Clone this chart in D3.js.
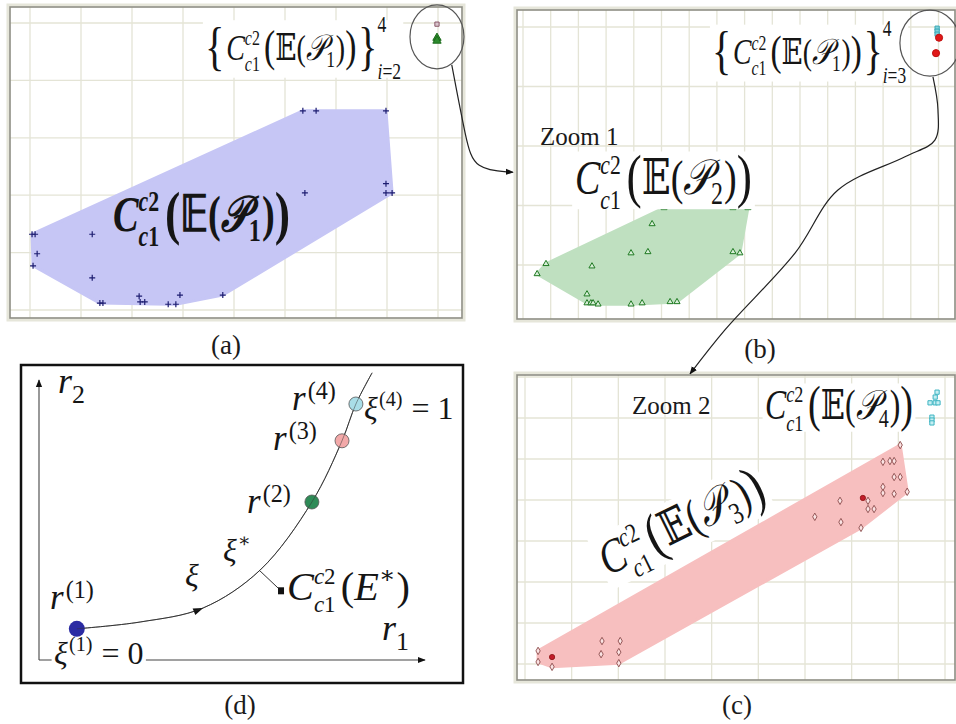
<!DOCTYPE html>
<html>
<head>
<meta charset="utf-8">
<script src="https://cdnjs.cloudflare.com/ajax/libs/d3/7.8.5/d3.min.js"></script>
<style>
  body { margin: 0; background: #fff; }
  svg { display: block; }
</style>
</head>
<body>
<div id="viz"></div>
<script>
var width = 956, height = 724;

// ---- data (grid units of each panel) ----
// (a) P1 points, "+" markers
var p1Points = [[5.35,3.47],[5.61,3.47],[6.98,3.47],[5.39,2.04],[6.98,2.20],[6.98,2.04],[7.10,2.04],
  [1.22,1.32],[0.04,1.32],[0.10,1.32],[0.14,0.98],[0.06,0.77],[1.22,0.56],[1.37,0.12],[1.43,0.12],
  [2.14,0.24],[2.16,0.14],[2.25,0.14],[2.71,0.10],[2.86,0.10],[2.94,0.26],[3.78,0.26]];
var aInsetSquares = [[7.98,4.98]];
var aInsetTriangles = [[7.98,4.74],[7.98,4.69]];
var aInsetCenter = [7.98,4.76];

// (b) P2 points, triangles
var p2Points = [[5.09,0.96],[7.58,0.96],[8.12,0.96],[4.66,0.69],[3.90,0.20],[4.51,0.22],[7.58,0.22],
  [7.83,0.20],[0.83,0.02],[2.49,-0.02],[0.51,-0.15],[2.31,-0.49],[2.31,-0.64],[2.45,-0.64],[2.53,-0.64],
  [2.71,-0.66],[3.90,-0.66],[4.30,-0.64],[5.31,-0.62],[5.56,-0.62]];
var bInsetSquares = [[14.95,3.98],[14.95,3.93],[14.95,3.88]];
var bInsetDots = [[15.02,3.82],[14.91,3.56]];
var bInsetCenter = [14.69,3.73];

// (c) P3 points, diamonds; P4 squares
var p3Points = [[8.04,5.34],[7.67,4.93],[7.82,4.95],[7.91,4.95],[7.91,4.56],[8.04,4.56],[7.67,4.32],
  [7.67,4.17],[7.91,4.15],[8.19,4.20],[7.35,3.98],[6.75,3.98],[7.35,3.78],[7.48,3.78],[6.21,3.59],
  [6.77,3.46],[7.20,3.32],[1.65,0.56],[2.04,0.56],[1.63,0.24],[2.01,0.29],[2.01,0.02],[0.28,0.32],
  [0.28,0.05],[0.58,-0.07]];
var p3Red = [[7.24,4.05],[0.58,0.17]];
var p4Points = [[8.83,6.63],[8.79,6.51],[8.68,6.37],[8.79,6.37],[8.85,6.37],[8.72,6.02],[8.72,5.95],[8.72,5.88]];

// (d) path xi in (r1, r2)
var xiCurve = [[0.98,0.78],[2.62,0.95],[4.25,1.30],[5.73,2.25],[7.07,3.95],[7.85,5.48],[8.21,6.40],[8.63,7.18]];
var rPoints = [[0.98,0.78],[7.07,3.95],[7.85,5.48],[8.21,6.40]];
var rColors = ["#2b2ba3", "#2e8b57", "#f3a9a9", "#a9dde7"];
var xiArrowAt = 4.25;
var eStar = [6.27,1.73], eFoot = [5.70,2.25];

// connectors (a) -> (b) in (a) units, (b) -> (c) in (b) units
var link1 = [[8.27,4.27],[8.55,2.96],[8.71,2.44],[9.47,2.40]];
var link2 = [[14.80,3.16],[14.98,2.61],[14.87,2.10],[13.79,1.82],[11.37,1.26],[9.82,0.20],[7.29,-1.09],[6.03,-1.83]];

// ---- scales ----
var xA = d3.scaleLinear().domain([0, 8]).range([30, 438]),
    yA = d3.scaleLinear().domain([0, 5]).range([310, 23]),
    xB = d3.scaleLinear().domain([0, 15]).range([523, 938.5]),
    yB = d3.scaleLinear().domain([0, 4]).range([265, 27]),
    xC = d3.scaleLinear().domain([0, 9]).range([525, 945]),
    yC = d3.scaleLinear().domain([0, 6]).range([664, 418]),
    xD = d3.scaleLinear().domain([0, 10]).range([39, 425]),
    yD = d3.scaleLinear().domain([0, 7]).range([660, 380]);

var svg = d3.select("#viz").append("svg")
    .attr("width", width).attr("height", height);

var defs = svg.append("defs");
defs.append("marker").attr("id", "arr")
    .attr("viewBox", "0 0 10 10").attr("refX", 9).attr("refY", 5)
    .attr("markerWidth", 8).attr("markerHeight", 8).attr("markerUnits", "userSpaceOnUse")
    .attr("orient", "auto")
  .append("path").attr("d", "M0,1L10,5L0,9Z").attr("fill", "#111");

var FONT = "'Liberation Serif','DejaVu Serif',serif";

// ---- math text helpers ----
function piece(g, x, y, size, spec, bold) {
  var t = g.append("text").attr("x", x).attr("y", y)
      .attr("font-family", FONT).attr("font-size", size)
      .attr("font-weight", bold ? "bold" : "normal").attr("fill", "#151515");
  spec.forEach(function(s){
    t.append("tspan").attr("font-style", s[1] ? "italic" : "normal").text(s[0]);
  });
  return t.node().getComputedTextLength();
}

function layout(g, tokens, size, bold) {
  var cx = 0;
  tokens.forEach(function(tk){
    var k = tk.k || 1;
    if (tk.gap) { cx += tk.gap * size; return; }
    if (tk.s) { cx += piece(g, cx, (tk.dy || 0) * size, size * k, tk.s, bold); return; }
    var ss = size * 0.6 * k;
    var w1 = tk.sup ? piece(g, cx + (tk.supdx || 0) * size, -(tk.up || 0.4) * size, ss, tk.sup, bold) : 0;
    var w2 = tk.sub ? piece(g, cx, (tk.down || 0.3) * size, ss, tk.sub, bold) : 0;
    cx += Math.max(w1 + (tk.supdx || 0) * size, w2) + 0.03 * size;
  });
  return cx;
}

function mathLabel(parent, tokens, o) {
  var outer = parent.append("g")
      .attr("transform", "translate(" + o.x + "," + o.y + ")" + (o.rot ? " rotate(" + o.rot + ")" : ""));
  var g = outer.append("g");
  var w = layout(g, tokens, 40, o.bold);
  var s = o.w ? o.w / w : o.size / 40;
  if (o.bg) {
    var bb = g.node().getBBox();
    g.insert("rect", ":first-child")
        .attr("x", bb.x - 3).attr("y", bb.y + bb.height * (o.bgTop || 0.12))
        .attr("width", bb.width + 6).attr("height", bb.height * (o.bgH || 0.8))
        .attr("fill", "#fff");
  }
  g.attr("transform", "scale(" + s + "," + (s * (o.sy || 1)) + ")");
  return outer;
}

function cTokens(n) {
  return [
    {s: [["C", 1]]},
    {sup: [["c", 1], ["2", 0]], sub: [["c", 1], ["1", 0]], up: 0.4, down: 0.3, k: 0.95},
    {gap: 0.12},
    {s: [["(", 0]], k: 1.2, dy: 0.04},
    {s: [["𝔼(", 0], ["𝒫", 1]]},
    {sub: [[n, 0]], down: 0.2, k: 1.05},
    {s: [[")", 0]]},
    {s: [[")", 0]], k: 1.2, dy: 0.04}
  ];
}
function bracedTokens(i0) {
  return [{s: [["{", 0]], k: 1.45, dy: 0.1}, {gap: 0.06}]
    .concat(cTokens("1"))
    .concat([{gap: 0.06}, {s: [["}", 0]], k: 1.45, dy: 0.1},
             {sup: [["4", 0]], sub: [["i", 1], ["=" + i0, 0]], up: 0.78, down: 0.52, k: 1.05}]);
}

// ---- panel frame + grid ----
function gridPanel(id, box, xs, ys, xTicks, yTicks) {
  var g = svg.append("g");
  defs.append("clipPath").attr("id", id)
    .append("rect").attr("x", box[0]).attr("y", box[1])
      .attr("width", box[2] - box[0]).attr("height", box[3] - box[1]);
  g.append("rect").attr("x", box[0] - 2).attr("y", box[1] - 2)
      .attr("width", box[2] - box[0] + 4).attr("height", box[3] - box[1] + 4)
      .attr("fill", "none").attr("stroke", "#e6e6da").attr("stroke-width", 3);
  g.append("rect").attr("x", box[0]).attr("y", box[1])
      .attr("width", box[2] - box[0]).attr("height", box[3] - box[1])
      .attr("fill", "#fff");
  var inner = g.append("g").attr("clip-path", "url(#" + id + ")");
  inner.selectAll(".gx").data(xTicks).enter().append("line")
      .attr("x1", function(d){ return xs(d); }).attr("x2", function(d){ return xs(d); })
      .attr("y1", box[1]).attr("y2", box[3])
      .attr("stroke", "#e4e4d6").attr("stroke-width", 1.3);
  inner.selectAll(".gy").data(yTicks).enter().append("line")
      .attr("y1", function(d){ return ys(d); }).attr("y2", function(d){ return ys(d); })
      .attr("x1", box[0]).attr("x2", box[2])
      .attr("stroke", "#e4e4d6").attr("stroke-width", 1.3);
  g.append("rect").attr("x", box[0]).attr("y", box[1])
      .attr("width", box[2] - box[0]).attr("height", box[3] - box[1])
      .attr("fill", "none").attr("stroke", "#8e8e84").attr("stroke-width", 1.6);
  return inner;
}

function hull(g, pts, xs, ys, fill) {
  var h = d3.polygonHull(pts.map(function(d){ return [xs(d[0]), ys(d[1])]; }));
  g.append("path").attr("d", "M" + h.join("L") + "Z").attr("fill", fill)
      .attr("stroke", fill).attr("stroke-width", 3).attr("stroke-linejoin", "round");
}

function symbols(g, pts, xs, ys, type, size, fill, stroke, sw) {
  g.selectAll(null).data(pts).enter().append("path")
      .attr("d", d3.symbol().type(type).size(size))
      .attr("transform", function(d){ return "translate(" + xs(d[0]) + "," + ys(d[1]) + ")"; })
      .attr("fill", fill).attr("stroke", stroke).attr("stroke-width", sw);
}

var crossSym = { draw: function(ctx, size) { var r = Math.sqrt(size) / 2;
  ctx.moveTo(-r, 0); ctx.lineTo(r, 0); ctx.moveTo(0, -r); ctx.lineTo(0, r); } };

// ---- (a) ----
var gA = gridPanel("clipA", [10, 7, 462, 318], xA, yA, d3.range(0, 9), d3.range(0, 6));
hull(gA, p1Points, xA, yA, "#c6c6f5");
symbols(gA, p1Points, xA, yA, crossSym, 36, "none", "#1d1d70", 1.2);
mathLabel(svg, bracedTokens("2"), {x: 205, y: 60, w: 197, sy: 1.3, bg: true});
mathLabel(svg, cTokens("1"), {x: 113, y: 231, w: 177, sy: 1.3, bold: true});
symbols(svg, aInsetSquares, xA, yA, d3.symbolSquare, 18, "#d9c4cc", "#8a5a6a", 1);
symbols(svg, aInsetTriangles, xA, yA, d3.symbolTriangle, 30, "#2c8a2c", "#1b6b1b", 1);
svg.append("ellipse").attr("cx", xA(aInsetCenter[0])).attr("cy", yA(aInsetCenter[1]))
    .attr("rx", 27).attr("ry", 32).attr("fill", "none").attr("stroke", "#555").attr("stroke-width", 1.2);

// ---- (b) ----
var gB = gridPanel("clipB", [517, 10, 955, 319], xB, yB, d3.range(0, 16), d3.range(-1, 5));
hull(gB, p2Points, xB, yB, "#bfe0c0");
symbols(gB, p2Points, xB, yB, d3.symbolTriangle, 16, "#d8eed8", "#1f7a22", 1);
mathLabel(svg, bracedTokens("3"), {x: 712, y: 64, w: 195, sy: 1.3, bg: true});
mathLabel(svg, cTokens("2"), {x: 575, y: 194, w: 177, sy: 1.3, bg: true});
svg.append("text").attr("x", 540).attr("y", 145).attr("font-family", FONT)
    .attr("font-size", 25).attr("fill", "#1a1a1a").text("Zoom 1");
symbols(svg, bInsetSquares, xB, yB, d3.symbolSquare, 18, "#7fd3dc", "#3aa8b6", 1);
symbols(svg, bInsetDots, xB, yB, d3.symbolCircle, 40, "#e01818", "#c01010", 1);
svg.append("ellipse").attr("cx", xB(bInsetCenter[0])).attr("cy", yB(bInsetCenter[1]))
    .attr("rx", 30).attr("ry", 33).attr("fill", "none").attr("stroke", "#555").attr("stroke-width", 1.2);

// ---- (c) ----
var gC = gridPanel("clipC", [517, 375, 955, 680], xC, yC, d3.range(0, 10), d3.range(0, 8));
hull(gC, p3Points, xC, yC, "#f7bfbf");
symbols(gC, p3Points, xC, yC, d3.symbolDiamond, 16, "#fbe4e4", "#8a4a4a", 0.9);
symbols(gC, p3Red, xC, yC, d3.symbolCircle, 22, "#c21d2a", "#8a1010", 0.8);
symbols(gC, p4Points, xC, yC, d3.symbolSquare, 18, "#c6eef2", "#3cb4c2", 1);
mathLabel(svg, cTokens("3"), {x: 608, y: 576, w: 178, sy: 1.25, rot: -26, bg: true});
mathLabel(svg, cTokens("4"), {x: 765, y: 419, w: 148, sy: 1.3, bg: true});
svg.append("text").attr("x", 632).attr("y", 414).attr("font-family", FONT)
    .attr("font-size", 25).attr("fill", "#1a1a1a").text("Zoom 2");

// ---- (d) ----
var gD = svg.append("g");
gD.append("rect").attr("x", 21).attr("y", 365).attr("width", 442).attr("height", 318)
    .attr("fill", "#fff").attr("stroke", "#111").attr("stroke-width", 2.5);
gD.append("line").attr("x1", xD(0)).attr("y1", yD(0)).attr("x2", xD(0)).attr("y2", yD(7))
    .attr("stroke", "#444").attr("stroke-width", 1.1).attr("marker-end", "url(#arr)");
gD.append("line").attr("x1", xD(0)).attr("y1", yD(0)).attr("x2", xD(10)).attr("y2", yD(0))
    .attr("stroke", "#444").attr("stroke-width", 1.1).attr("marker-end", "url(#arr)");

mathLabel(gD, [{s: [["r", 1]]}, {sub: [["2", 0]], down: 0.28, k: 1.2}], {x: 58, y: 393, size: 36});
mathLabel(gD, [{s: [["r", 1]]}, {sub: [["1", 0]], down: 0.28, k: 1.2}], {x: 382, y: 640, size: 36});
[["1", 50, 609], ["2", 247, 513], ["3", 273, 450], ["4", 292, 410]].forEach(function(r){
  mathLabel(gD, [{s: [["r", 1]]}, {sup: [["(" + r[0] + ")", 0]], up: 0.32, k: 1.15, supdx: 0.06}],
    {x: r[1], y: r[2], size: 35});
});
mathLabel(gD, [{s: [["ξ", 1]]}, {sup: [["(4)", 0]], up: 0.42, k: 1.05, supdx: 0.04}, {gap: 0.25}, {s: [["= 1", 0]]}],
  {x: 364, y: 419, size: 32});
mathLabel(gD, [{s: [["ξ", 1]]}, {sup: [["(1)", 0]], up: 0.42, k: 1.05, supdx: 0.04}, {gap: 0.25}, {s: [["= 0", 0]]}],
  {x: 54, y: 664, size: 32, bg: true, bgTop: 0.35, bgH: 0.45});
mathLabel(gD, [{s: [["ξ", 1]]}, {sup: [["∗", 0]], up: 0.45, k: 1.0, supdx: 0.03}], {x: 223, y: 561, size: 32});
mathLabel(gD, [{s: [["ξ", 1]]}], {x: 185, y: 586, size: 32});
mathLabel(gD, [{s: [["C", 1]]}, {sup: [["c", 1], ["2", 0]], sub: [["c", 1], ["1", 0]], up: 0.4, down: 0.3, k: 0.95},
  {gap: 0.1}, {s: [["(", 0], ["E", 1]]}, {sup: [["∗", 0]], up: 0.42}, {s: [[")", 0]]}],
  {x: 287, y: 600, w: 123});

var xiPath = gD.append("path").datum(xiCurve)
    .attr("d", d3.line().x(function(d){ return xD(d[0]); }).y(function(d){ return yD(d[1]); })
      .curve(d3.curveCatmullRom))
    .attr("fill", "none").attr("stroke", "#333").attr("stroke-width", 1);
(function(){
  var node = xiPath.node(), L = node.getTotalLength(), best = 0, bd = 1e9;
  for (var l = 0; l <= L; l += 0.5) {
    var p = node.getPointAtLength(l), dd = Math.abs(p.x - xD(xiArrowAt));
    if (dd < bd) { bd = dd; best = l; }
  }
  var p0 = node.getPointAtLength(best - 3), p1 = node.getPointAtLength(best);
  var ang = Math.atan2(p1.y - p0.y, p1.x - p0.x) * 180 / Math.PI;
  gD.append("path").attr("d", "M0,0L-10,-3.5L-10,3.5Z").attr("fill", "#111")
      .attr("transform", "translate(" + p1.x + "," + p1.y + ") rotate(" + ang + ")");
})();
gD.append("line").attr("x1", xD(eFoot[0])).attr("y1", yD(eFoot[1]))
    .attr("x2", xD(eStar[0])).attr("y2", yD(eStar[1])).attr("stroke", "#333").attr("stroke-width", 1);
gD.append("rect").attr("x", xD(eStar[0]) - 3).attr("y", yD(eStar[1]) - 3.5)
    .attr("width", 6).attr("height", 7).attr("fill", "#111");
gD.selectAll(".rp").data(rPoints).enter().append("circle")
    .attr("cx", function(d){ return xD(d[0]); }).attr("cy", function(d){ return yD(d[1]); })
    .attr("r", function(d, i){ return i === 0 ? 8 : 7; })
    .attr("fill", function(d, i){ return rColors[i]; })
    .attr("stroke", function(d, i){ return i === 0 ? "none" : "#555"; }).attr("stroke-width", 0.8);
// curve drawn again lightly over the circles, as in the figure
gD.append("path").datum(xiCurve)
    .attr("d", d3.line().x(function(d){ return xD(d[0]); }).y(function(d){ return yD(d[1]); })
      .curve(d3.curveCatmullRom))
    .attr("fill", "none").attr("stroke", "#333").attr("stroke-width", 0.8).attr("opacity", 0.6);

// ---- connectors ----
svg.append("path").datum(link1)
    .attr("d", d3.line().x(function(d){ return xA(d[0]); }).y(function(d){ return yA(d[1]); }).curve(d3.curveBasis))
    .attr("fill", "none").attr("stroke", "#222").attr("stroke-width", 1.2).attr("marker-end", "url(#arr)");
svg.append("path").datum(link2)
    .attr("d", d3.line().x(function(d){ return xB(d[0]); }).y(function(d){ return yB(d[1]); }).curve(d3.curveCatmullRom))
    .attr("fill", "none").attr("stroke", "#222").attr("stroke-width", 1.2).attr("marker-end", "url(#arr)");

// ---- panel captions ----
[["(a)", 226, 354], ["(b)", 760, 358], ["(c)", 737, 714], ["(d)", 240, 714]].forEach(function(c){
  svg.append("text").attr("x", c[1]).attr("y", c[2]).attr("text-anchor", "middle")
      .attr("font-family", FONT).attr("font-size", 27).attr("fill", "#1a1a1a").text(c[0]);
});
</script>
</body>
</html>
